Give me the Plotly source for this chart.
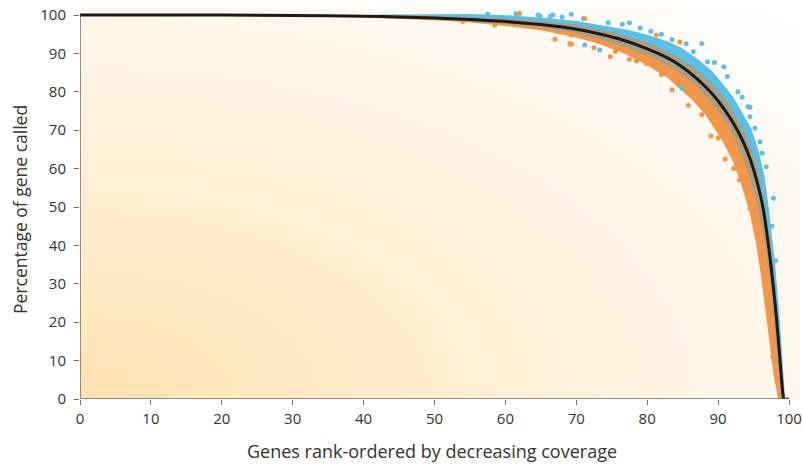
import numpy as np
import plotly.graph_objects as go

# ---- data ----
curve_x = [0, 20, 30, 40, 45, 50, 55, 60, 65, 70, 73, 76, 80, 83, 85, 87, 89, 90, 91, 92,
           93, 94, 95, 96, 96.5, 97, 97.5, 98, 98.4, 98.8, 99.1, 99.3, 100]
curve_y = [100, 100, 99.9, 99.7, 99.5, 99.2, 98.8, 98.3, 97.5, 96.3, 95.2, 93.8, 91.2, 88.7,
           86.4, 83.4, 79.8, 77.6, 75.1, 72.3, 69, 65, 59.8, 52.8, 48, 41.5, 34, 25.5, 17.5,
           8.5, 2, 0, 0]

# dense blue band (outer edge, above/right of the curve)
blue_x = [42, 50, 55, 60, 65, 70, 74, 77, 80, 82.8, 85, 87.4, 89, 90.3, 92, 93.3, 94.5, 95.5,
          96.4, 97.0, 97.5, 98.0, 98.5, 98.9, 99.3]
blue_y = [99.9, 100.0, 100.0, 99.7, 99.1, 98.2, 97.0, 96.0, 94.6, 92.9, 91.0, 87.8, 85.3, 82.5,
          78.5, 74.5, 70.5, 65, 58, 50, 42, 33, 22, 12, 2]

# dense orange band (inner edge, below/left of the curve)
orange_x = [42, 50, 55, 60, 65, 70, 73.3, 77, 80, 83, 86.5, 88.4, 90.5, 92.1, 93.5, 94.6, 95.5,
            96.2, 96.9, 97.4, 98.0, 98.6]
orange_y = [99.5, 98.9, 98.3, 97.4, 96.3, 94.4, 92.7, 90.1, 87.2, 83.8, 78.0, 74.0, 68.0, 62.5,
            55.5, 48.5, 40.5, 32, 22, 14, 6, 0]

# grey (overlap) band around the curve
grey_hi_x = [42, 50, 60, 65, 70, 75, 80, 84, 87, 89.5, 91.5, 93, 94.5, 95.7, 96.6, 97.3, 97.9,
             98.5, 99.0, 99.3]
grey_hi_y = [99.8, 99.6, 99.0, 98.4, 97.3, 95.5, 92.8, 89.3, 85.6, 81.3, 76.6, 72.0, 65.8, 58.3,
             49.8, 40.8, 30.8, 18, 7, 1]
grey_lo_x = [42, 50, 60, 65, 70, 75, 80, 84, 87, 89.5, 91.5, 93, 94.5, 95.7, 96.6, 97.3, 97.9,
             98.5, 99.0, 99.3]
grey_lo_y = [99.6, 99.0, 97.8, 96.9, 95.4, 93.0, 89.7, 85.9, 81.5, 76.5, 71.2, 65.5, 58.2, 50.2,
             41.5, 32.5, 22.5, 10.5, 1.0, 0]

# scattered individual points
blue_pts_x = [64.6, 66.3, 69.3, 71.0, 66.7, 64.9, 87.7, 94.2, 94.5, 97.8, 95.9, 94.5, 93.4, 73.3,
              71.2, 84.9, 76.5, 79, 82, 85.5, 89.5, 91.3, 92.8, 96.8, 77.5, 90.8, 95.2, 96.2,
              61.5, 57.5, 68.0, 74.5, 80.5, 83.5, 86.5, 88.5, 97.6, 98.1]
blue_pts_y = [100.0, 99.6, 100.2, 99.0, 100.0, 99.7, 92.6, 76.1, 73.5, 52.3, 67.0, 76.0, 78.6,
              90.9, 92.2, 80.9, 97.6, 96.6, 95.0, 92.5, 87.6, 84.0, 80.0, 60.5, 98.0, 86.5,
              70.5, 64, 100.3, 100.2, 99.4, 98.0, 95.8, 93.6, 90.4, 87.8, 45, 36]
orange_pts_x = [87.7, 94.5, 97.0, 97.7, 96.1, 69.1, 67.0, 69.3, 74.8, 79.9, 81.3, 69.3, 71.2,
                62.0, 84.6, 81.3, 93.0, 91.0, 89.0, 95.3, 96.6, 72.5, 77.5, 83.5, 85.8,
                88.1, 58.5, 54.0, 75.5, 78.5, 82.0, 90.0, 92.2, 95.0]
orange_pts_y = [74.0, 49.7, 24.7, 11.0, 38.8, 92.6, 93.7, 94.8, 89.1, 87.4, 86.5, 92.4, 99.1,
                100.4, 93.0, 94.8, 57.0, 62.5, 68.5, 45.0, 33.0, 91.5, 88.5, 80.5, 76.5,
                75.7, 97.3, 98.3, 90.5, 88.0, 84.5, 68.0, 60.0, 52.0]

x_ticks = [0, 10, 20, 30, 40, 50, 60, 70, 80, 90, 100]
y_ticks = [0, 10, 20, 30, 40, 50, 60, 70, 80, 90, 100]

BLUE = "#5cbfe6"
ORANGE = "#f1964b"
GREY = "#a89e83"
AX = "#6e6e6e"
FONT = "Open Sans"

# full window; the page body margin is removed by the post script below
W, H = 803, 464
ML, MR, MT, MB = 80, 3, 9, 65
X_TOP = (W - ML - MR) / 7.09
Y_TOP = (H - MT - MB) / 3.84

fig = go.Figure()

# background gradient (style only)
gx = np.linspace(0, X_TOP, 70)
gy = np.linspace(0, Y_TOP, 50)
GX, GY = np.meshgrid(gx, gy)
gz = np.sqrt((GX / 100) ** 2 + (GY / 100) ** 2) / np.sqrt(2)
fig.add_trace(go.Heatmap(
    x=gx, y=gy, z=gz, zmin=0, zmax=1, zsmooth="best", showscale=False, hoverinfo="skip",
    colorscale=[[0, "#ffe2b0"], [0.3, "#ffebcb"], [0.6, "#fff4e4"], [0.85, "#fffaf4"],
                [1, "#ffffff"]]))


def band(ex, ey, lo_x=42, hi_x=99.3):
    back = [(x, y) for x, y in zip(curve_x, curve_y) if lo_x <= x <= hi_x][::-1]
    return list(ex) + [p[0] for p in back], list(ey) + [p[1] for p in back]


bx, by = band(blue_x, blue_y)
fig.add_trace(go.Scatter(x=bx, y=by, fill="toself", fillcolor=BLUE, mode="lines",
                         line=dict(color=BLUE, width=2), hoverinfo="skip"))
ox, oy = band(orange_x, orange_y)
fig.add_trace(go.Scatter(x=ox, y=oy, fill="toself", fillcolor=ORANGE, mode="lines",
                         line=dict(color=ORANGE, width=2), hoverinfo="skip"))
fig.add_trace(go.Scatter(x=grey_hi_x + grey_lo_x[::-1], y=grey_hi_y + grey_lo_y[::-1],
                         fill="toself", fillcolor=GREY, mode="lines",
                         line=dict(color=GREY, width=1), hoverinfo="skip"))

fig.add_trace(go.Scatter(x=blue_pts_x, y=blue_pts_y, mode="markers",
                         marker=dict(color=BLUE, size=5), hoverinfo="skip"))
fig.add_trace(go.Scatter(x=orange_pts_x, y=orange_pts_y, mode="markers",
                         marker=dict(color=ORANGE, size=5), hoverinfo="skip"))

fig.add_trace(go.Scatter(x=curve_x, y=curve_y, mode="lines",
                         line=dict(color="#1c1a18", width=3, shape="spline", smoothing=0.6),
                         hoverinfo="skip"))

fig.add_shape(type="line", x0=0, x1=100, y0=0, y1=0, line=dict(color=AX, width=1.5))
fig.add_shape(type="line", x0=0, x1=0, y0=0, y1=100, line=dict(color=AX, width=1.5))

PW, PH = W - ML - MR, H - MT - MB
fig.add_annotation(text="Genes rank-ordered by decreasing coverage", xref="paper", yref="paper",
                   x=(432 - ML) / PW, y=-(451 - (H - MB)) / PH, showarrow=False,
                   xanchor="center", yanchor="middle", font=dict(size=18, color="#333333"))
fig.add_annotation(text="Percentage of gene called", xref="paper", yref="paper",
                   x=-(ML - 20) / PW, y=((H - MB) - 210) / PH, showarrow=False,
                   textangle=-90, xanchor="center", yanchor="middle",
                   font=dict(size=17.5, color="#333333"))

fig.update_layout(
    width=W, height=H, showlegend=False, hovermode=False,
    margin=dict(l=ML, r=MR, t=MT, b=MB, autoexpand=False),
    paper_bgcolor="white", plot_bgcolor="white",
    font=dict(family=FONT, size=15, color="#333333"),
    xaxis=dict(range=[0, X_TOP], tickvals=x_ticks, ticks="outside", ticklen=5, tickwidth=1.2,
               tickcolor=AX, showgrid=False, zeroline=False, showline=False, automargin=False,
               tickfont=dict(size=15), ticklabelstandoff=1, ticklabeloverflow="allow"),
    yaxis=dict(range=[0, Y_TOP], tickvals=y_ticks, ticks="outside", ticklen=5, tickwidth=1.2,
               tickcolor=AX, showgrid=False, zeroline=False, showline=False, automargin=False,
               tickfont=dict(size=15), ticklabelstandoff=5, ticklabeloverflow="allow"),
)

fig.write_html("out.html", config={"displayModeBar": False},
               post_script="document.body.style.margin='0';document.body.style.overflow='hidden';")
